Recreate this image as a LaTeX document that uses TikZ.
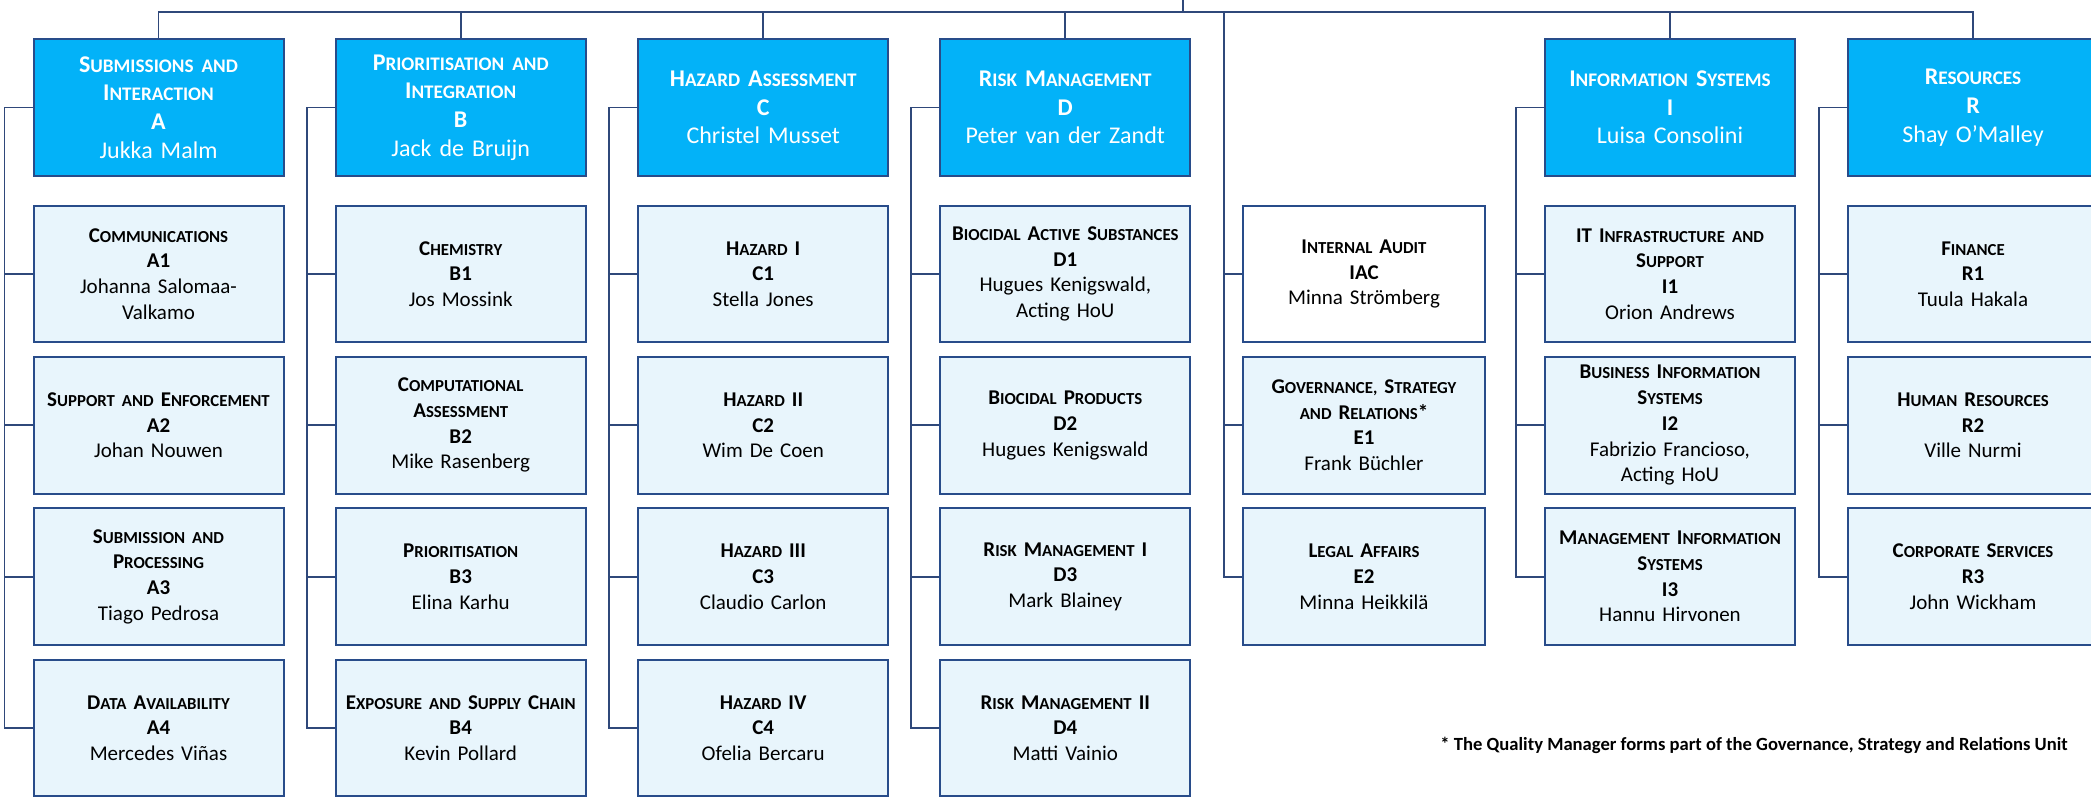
\documentclass[tikz,border=0pt]{standalone}
\usepackage{fontspec}
\setmainfont{Carlito}
\definecolor{linec}{RGB}{47,72,122}
\definecolor{boxc}{RGB}{40,76,138}
\definecolor{headc}{RGB}{3,178,248}
\definecolor{subc}{RGB}{232,245,252}
\makeatletter
\newcommand\smc[1]{{\fontsize{\fpeval{0.8*\f@size}}{\f@baselineskip}\selectfont #1}}
\makeatother
\newcommand\ut[3]{{\bfseries #1\\#2}\\#3}
\begin{document}
\begin{tikzpicture}[x=1pt,y=-1pt,
 conn/.style={draw=linec, line width=1.8pt},
 head/.style={draw=boxc, line width=2pt, fill=headc, text=white, minimum width=250pt, minimum height=136.4pt, inner sep=0pt, text width=246pt, align=center, font=\fontsize{24}{28.7}\selectfont},
 sub/.style={draw=boxc, line width=2pt, fill=subc, minimum width=250pt, minimum height=136.6pt, inner sep=0pt, text width=246pt, align=center, font=\fontsize{21}{25.7}\selectfont},
 staff/.style={sub, minimum width=242pt, text width=238pt}]
\useasboundingbox (0,0) rectangle (2091,800);
% heads
\node[head] (A) at (158.5,107.5) {\ut{S\smc{UBMISSIONS AND}\\I\smc{NTERACTION}}{A}{Jukka Malm}};
\node[head] (B) at (460.7,107.5) {\ut{P\smc{RIORITISATION AND}\\I\smc{NTEGRATION}}{B}{Jack de Bruijn}};
\node[head] (C) at (763.2,107.5) {\ut{H\smc{AZARD} A\smc{SSESSMENT}}{C}{Christel Musset}};
\node[head] (D) at (1065.3,107.5) {\ut{R\smc{ISK} M\smc{ANAGEMENT}}{D}{Peter van der Zandt}};
\node[head] (I) at (1670,107.5) {\ut{I\smc{NFORMATION} S\smc{YSTEMS}}{I}{Luisa Consolini}};
\node[head] (R) at (1973,107.5) {\ut{R\smc{ESOURCES}}{R}{Shay O’Malley}};
% column A
\node[sub] (A1) at (158.5,274) {\ut{C\smc{OMMUNICATIONS}}{A1}{Johanna Salomaa-\\Valkamo}};
\node[sub] (A2) at (158.5,425.3) {\ut{S\smc{UPPORT AND} E\smc{NFORCEMENT}}{A2}{Johan Nouwen}};
\node[sub] (A3) at (158.5,576.7) {\ut{S\smc{UBMISSION AND}\\P\smc{ROCESSING}}{A3}{Tiago Pedrosa}};
\node[sub] (A4) at (158.5,728) {\ut{D\smc{ATA} A\smc{VAILABILITY}}{A4}{Mercedes Viñas}};
% column B
\node[sub] (B1) at (460.7,274) {\ut{C\smc{HEMISTRY}}{B1}{Jos Mossink}};
\node[sub] (B2) at (460.7,425.3) {\ut{C\smc{OMPUTATIONAL}\\A\smc{SSESSMENT}}{B2}{Mike Rasenberg}};
\node[sub] (B3) at (460.7,576.7) {\ut{P\smc{RIORITISATION}}{B3}{Elina Karhu}};
\node[sub] (B4) at (460.7,728) {\ut{E\smc{XPOSURE AND} S\smc{UPPLY} C\smc{HAIN}}{B4}{Kevin Pollard}};
% column C
\node[sub] (C1) at (763.2,274) {\ut{H\smc{AZARD} I}{C1}{Stella Jones}};
\node[sub] (C2) at (763.2,425.3) {\ut{H\smc{AZARD} II}{C2}{Wim De Coen}};
\node[sub] (C3) at (763.2,576.7) {\ut{H\smc{AZARD} III}{C3}{Claudio Carlon}};
\node[sub] (C4) at (763.2,728) {\ut{H\smc{AZARD} IV}{C4}{Ofelia Bercaru}};
% column D
\node[sub] (D1) at (1065.3,274) {\ut{B\smc{IOCIDAL} A\smc{CTIVE} S\smc{UBSTANCES}}{D1}{Hugues Kenigswald,\\Acting HoU}};
\node[sub] (D2) at (1065.3,425.3) {\ut{B\smc{IOCIDAL} P\smc{RODUCTS}}{D2}{Hugues Kenigswald}};
\node[sub] (D3) at (1065.3,576.7) {\ut{R\smc{ISK} M\smc{ANAGEMENT} I}{D3}{Mark Blainey}};
\node[sub] (D4) at (1065.3,728) {\ut{R\smc{ISK} M\smc{ANAGEMENT} II}{D4}{Matti Vainio}};
% staff
\node[staff, fill=white] (IAC) at (1364,274) {\ut{I\smc{NTERNAL} A\smc{UDIT}}{IAC}{Minna Strömberg}};
\node[staff] (E1) at (1364,425.3) {\ut{G\smc{OVERNANCE,} S\smc{TRATEGY}\\\smc{AND} R\smc{ELATIONS}*}{E1}{Frank Büchler}};
\node[staff] (E2) at (1364,576.7) {\ut{L\smc{EGAL} A\smc{FFAIRS}}{E2}{Minna Heikkilä}};
% column I
\node[sub] (I1) at (1670,274) {\ut{IT I\smc{NFRASTRUCTURE AND}\\S\smc{UPPORT}}{I1}{Orion Andrews}};
\node[sub] (I2) at (1670,425.3) {\ut{B\smc{USINESS} I\smc{NFORMATION}\\S\smc{YSTEMS}}{I2}{Fabrizio Francioso,\\Acting HoU}};
\node[sub] (I3) at (1670,576.7) {\ut{M\smc{ANAGEMENT} I\smc{NFORMATION}\\S\smc{YSTEMS}}{I3}{Hannu Hirvonen}};
% column R
\node[sub] (R1) at (1973,274) {\ut{F\smc{INANCE}}{R1}{Tuula Hakala}};
\node[sub] (R2) at (1973,425.3) {\ut{H\smc{UMAN} R\smc{ESOURCES}}{R2}{Ville Nurmi}};
\node[sub] (R3) at (1973,576.7) {\ut{C\smc{ORPORATE} S\smc{ERVICES}}{R3}{John Wickham}};
% footnote
\node[font=\bfseries\fontsize{18.6}{22}\selectfont, anchor=east, inner sep=0pt] (note) at (2068,745) {* The Quality Manager forms part of the Governance, Strategy and Relations Unit};
% connectors
\coordinate (root) at (1182.6,0);
\coordinate (topbar) at (1182.6,12);
\coordinate (Sx) at (1224,12);
\draw[conn] (root) -- (topbar);
\draw[conn] (A.north) -- (A.north |- topbar) -- (R.north |- topbar) -- (R.north);
\foreach \n in {B,C,D,I} \draw[conn] (\n.north) -- (\n.north |- topbar);
\draw[conn] (Sx) |- (E2.west);
\foreach \n in {IAC,E1} \draw[conn] (\n.west) -- (\n.west -| Sx);
\foreach \h/\l in {A/A4,B/B4,C/C4,D/D4,I/I3,R/R3} \draw[conn] (\h.west) -- ++(-28,0) |- (\l.west);
\foreach \n in {A1,A2,A3,B1,B2,B3,C1,C2,C3,D1,D2,D3,I1,I2,R1,R2} \draw[conn] (\n.west) -- ++(-28,0);
\end{tikzpicture}
\end{document}
